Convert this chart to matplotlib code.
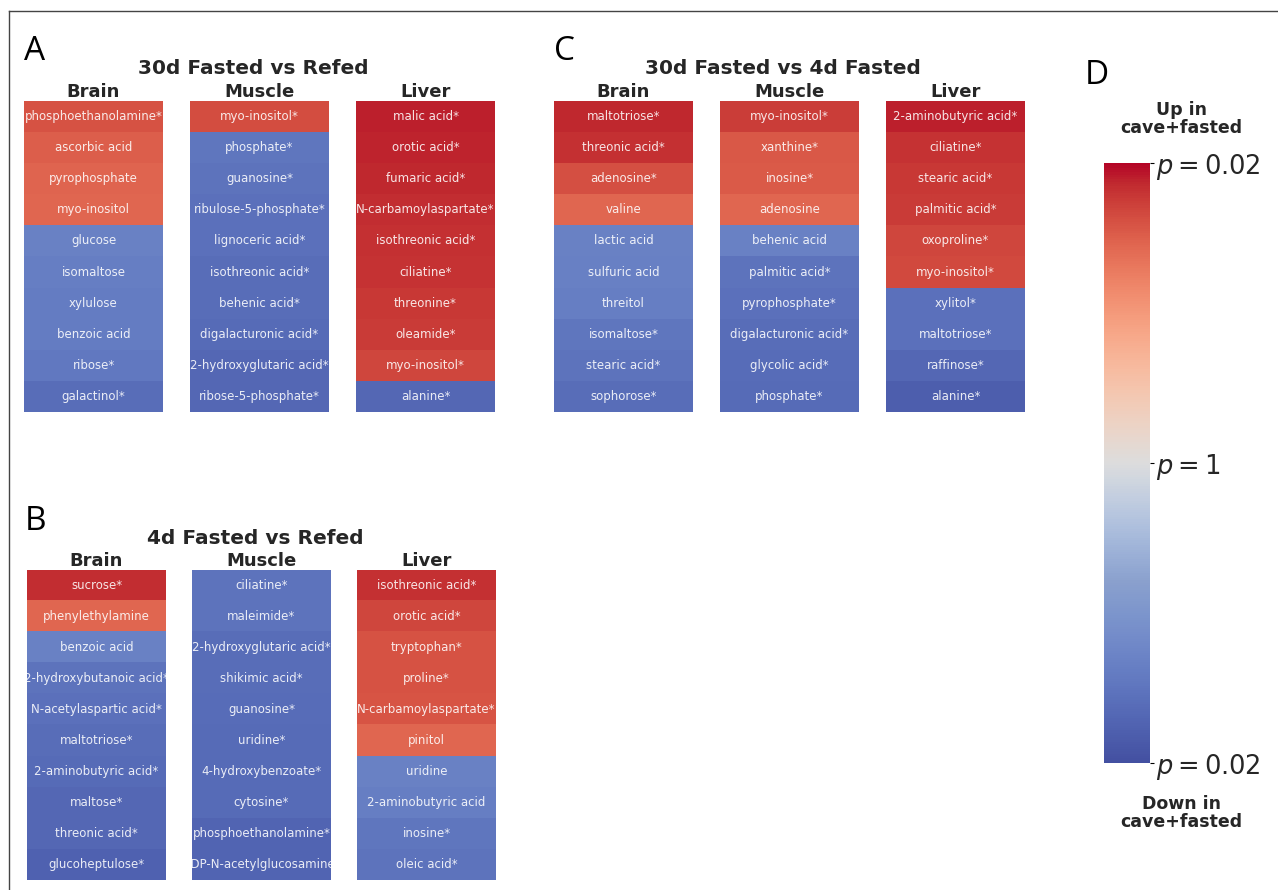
import numpy as np
import matplotlib.pyplot as plt
from matplotlib.colors import LinearSegmentedColormap, Normalize
from matplotlib.lines import Line2D
import matplotlib as mpl

# signed score: +1 = strongly up (p=0.02), 0 = p=1, -1 = strongly down
a_brain_names = ["phosphoethanolamine*", "ascorbic acid", "pyrophosphate", "myo-inositol",
                 "glucose", "isomaltose", "xylulose", "benzoic acid", "ribose*", "galactinol*"]
a_brain_vals = [0.80, 0.75, 0.73, 0.72, -0.66, -0.68, -0.70, -0.70, -0.72, -0.80]
a_muscle_names = ["myo-inositol*", "phosphate*", "guanosine*", "ribulose-5-phosphate*",
                  "lignoceric acid*", "isothreonic acid*", "behenic acid*",
                  "digalacturonic acid*", "2-hydroxyglutaric acid*", "ribose-5-phosphate*"]
a_muscle_vals = [0.82, -0.74, -0.76, -0.78, -0.78, -0.80, -0.80, -0.82, -0.84, -0.84]
a_liver_names = ["malic acid*", "orotic acid*", "fumaric acid*", "N-carbamoylaspartate*",
                 "isothreonic acid*", "ciliatine*", "threonine*", "oleamide*",
                 "myo-inositol*", "alanine*"]
a_liver_vals = [0.95, 0.94, 0.93, 0.92, 0.91, 0.90, 0.89, 0.88, 0.84, -0.84]

b_brain_names = ["sucrose*", "phenylethylamine", "benzoic acid", "2-hydroxybutanoic acid*",
                 "N-acetylaspartic acid*", "maltotriose*", "2-aminobutyric acid*",
                 "maltose*", "threonic acid*", "glucoheptulose*"]
b_brain_vals = [0.92, 0.72, -0.66, -0.76, -0.78, -0.80, -0.82, -0.84, -0.84, -0.88]
b_muscle_names = ["ciliatine*", "maleimide*", "2-hydroxyglutaric acid*", "shikimic acid*",
                  "guanosine*", "uridine*", "4-hydroxybenzoate*", "cytosine*",
                  "phosphoethanolamine*", "UDP-N-acetylglucosamine*"]
b_muscle_vals = [-0.76, -0.76, -0.80, -0.80, -0.81, -0.82, -0.82, -0.82, -0.86, -0.86]
b_liver_names = ["isothreonic acid*", "orotic acid*", "tryptophan*", "proline*",
                 "N-carbamoylaspartate*", "pinitol", "uridine", "2-aminobutyric acid",
                 "inosine*", "oleic acid*"]
b_liver_vals = [0.91, 0.84, 0.80, 0.80, 0.79, 0.72, -0.66, -0.68, -0.74, -0.76]

c_brain_names = ["maltotriose*", "threonic acid*", "adenosine*", "valine", "lactic acid",
                 "sulfuric acid", "threitol", "isomaltose*", "stearic acid*", "sophorose*"]
c_brain_vals = [0.93, 0.91, 0.81, 0.72, -0.66, -0.67, -0.68, -0.74, -0.76, -0.80]
c_muscle_names = ["myo-inositol*", "xanthine*", "inosine*", "adenosine", "behenic acid",
                  "palmitic acid*", "pyrophosphate*", "digalacturonic acid*",
                  "glycolic acid*", "phosphate*"]
c_muscle_vals = [0.87, 0.78, 0.77, 0.72, -0.66, -0.76, -0.78, -0.80, -0.81, -0.82]
c_liver_names = ["2-aminobutyric acid*", "ciliatine*", "stearic acid*", "palmitic acid*",
                 "oxoproline*", "myo-inositol*", "xylitol*", "maltotriose*",
                 "raffinose*", "alanine*"]
c_liver_vals = [0.95, 0.90, 0.89, 0.88, 0.84, 0.83, -0.78, -0.78, -0.84, -0.90]

tissues = ["Brain", "Muscle", "Liver"]
panel_titles = ["30d Fasted vs Refed", "4d Fasted vs Refed", "30d Fasted vs 4d Fasted"]

# coolwarm with the blue half greyed down, as in the original figure
base = plt.get_cmap("coolwarm")
xs = np.linspace(0, 1, 256)
cols = base(xs)
w = 0.30 * np.clip((0.5 - xs) / 0.2, 0, 1)
grey = np.array([0.345, 0.345, 0.345])
cols[:, :3] = cols[:, :3] * (1 - w[:, None]) + grey * w[:, None]
cmap = LinearSegmentedColormap.from_list("cw_desat", cols)
norm = Normalize(vmin=-1, vmax=1)

W, H = 1278, 890
fig = plt.figure(figsize=(W / 100, H / 100), dpi=100)
title_color = "#262626"


def px_axes(x0, y0, x1, y1):
    return fig.add_axes([x0 / W, 1 - y1 / H, (x1 - x0) / W, (y1 - y0) / H])


def heat(x0, y0, x1, y1, names, vals, tissue):
    ax = px_axes(x0, y0, x1, y1)
    ax.imshow(np.array(vals)[:, None], cmap=cmap, norm=norm, aspect="auto",
              extent=(0, 1, len(vals), 0))
    for i, n in enumerate(names):
        ax.text(0.5, i + 0.5, n, ha="center", va="center", fontsize=8.5,
                color="white", alpha=0.88, clip_on=True)
    ax.set_xlim(0, 1)
    ax.set_ylim(len(vals), 0)
    ax.axis("off")
    ax.set_title(tissue, fontsize=13, fontweight="bold", color=title_color, pad=2)
    return ax


panels = [
    (a_brain_names, a_brain_vals, a_muscle_names, a_muscle_vals, a_liver_names, a_liver_vals),
    (b_brain_names, b_brain_vals, b_muscle_names, b_muscle_vals, b_liver_names, b_liver_vals),
    (c_brain_names, c_brain_vals, c_muscle_names, c_muscle_vals, c_liver_names, c_liver_vals),
]
# pixel layout: x-starts of the three columns and top/bottom of each panel
layout = [
    ([24, 190, 356], 101, 412, "A", (24, 60), 253, 69),
    ([27, 192, 357], 570, 880, "B", (25, 530), 255, 538),
    ([554, 720, 886], 101, 412, "C", (554, 60), 783, 69),
]
colw = 139
for (bn, bv, mn, mv, ln, lv), (xs0, yt, yb, letter, lpos, tx, ty), title in zip(panels, layout, panel_titles):
    for x0, n, v, t in zip(xs0, [bn, mn, ln], [bv, mv, lv], tissues):
        heat(x0, yt, x0 + colw, yb, n, v, t)
    fig.text(tx / W, 1 - ty / H, title, ha="center", va="center", fontsize=14.5,
             fontweight="bold", color=title_color)
    fig.text(lpos[0] / W, 1 - lpos[1] / H, letter, ha="left", va="baseline",
             fontsize=24, family="Open Sans", color="black")

# colorbar
cax = px_axes(1104, 163, 1150, 763)
cb = mpl.colorbar.ColorbarBase(cax, cmap=cmap, norm=norm, orientation="vertical")
cb.outline.set_visible(False)
cb.set_ticks([-1, 0, 1])
cb.set_ticklabels(["$p = 0.02$", "$p = 1$", "$p = 0.02$"])
cax.tick_params(labelsize=18.5, length=3, width=0.8, pad=1, labelcolor=title_color)
fig.text(1181 / W, 1 - 119 / H, "Up in\ncave+fasted", ha="center", va="center",
         fontsize=12.5, fontweight="bold", color=title_color, linespacing=0.95)
fig.text(1181 / W, 1 - 813 / H, "Down in\ncave+fasted", ha="center", va="center",
         fontsize=12.5, fontweight="bold", color=title_color, linespacing=0.95)
fig.text(1085 / W, 1 - 84 / H, "D", ha="left", va="baseline",
         fontsize=24, family="Open Sans", color="black")

# outer frame
fig.add_artist(Line2D([8.5 / W, 8.5 / W], [0, 1 - 10.5 / H], transform=fig.transFigure,
                      color="#444444", lw=1))
fig.add_artist(Line2D([8.5 / W, 1], [1 - 10.5 / H, 1 - 10.5 / H], transform=fig.transFigure,
                      color="#444444", lw=1))

fig.savefig("out.png", dpi=100)
